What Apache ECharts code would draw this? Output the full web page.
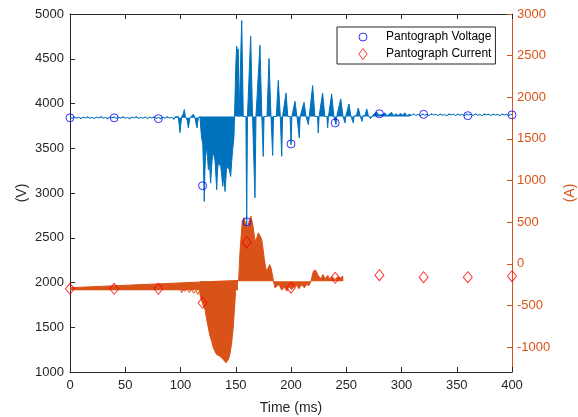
<!DOCTYPE html>
<html>
<head>
<meta charset="utf-8">
<script src="https://cdn.jsdelivr.net/npm/echarts@6/dist/echarts.min.js"></script>
<style>
html,body{margin:0;padding:0;background:#fff;}
#chart{width:578px;height:417px;}
</style>
</head>
<body>
<div id="chart"></div>
<script>
// ---------- DATA ----------
// Tick labels
var xTicks = [0, 50, 100, 150, 200, 250, 300, 350, 400];
var voltTicks = [1000, 1500, 2000, 2500, 3000, 3500, 4000, 4500, 5000];
var currTicks = [-1000, -500, 0, 500, 1000, 1500, 2000, 2500, 3000];

// Marker series (sampled every 40 ms)
var markerTimes = [0, 40, 80, 120, 160, 200, 240, 280, 320, 360, 400];
var voltMarkers = [3840, 3840, 3831, 3081, 2678, 3548, 3783, 3885, 3879, 3864, 3873];
var currMarkers = [-301, -301, -301, -469, 259, -288, -169, -137, -161, -161, -149];

// Pantograph voltage waveform [time ms, V]
var voltPre = [[0,3842],[2,3832],[4,3850],[6,3836],[8,3847],[10,3830],[12,3848],[14,3838],[16,3852],[18,3834],[20,3846],[22,3831],[24,3849],[26,3837],[28,3854],[30,3835],[32,3845],[34,3828],[36,3848],[38,3839],[40,3851],[42,3832],[44,3847],[46,3836],[48,3853],[50,3834],[52,3844],[54,3829],[56,3849],[58,3838],[60,3855],[62,3833],[64,3846],[66,3835],[68,3851],[70,3830],[72,3848],[74,3837],[76,3852],[78,3832],[80,3845],[82,3827],[84,3849],[86,3834],[88,3854],[90,3836],[92,3847],[94,3822],[95,3850],[96,3828],[98,3856],[99.5,3675],[101,3850],[102.5,3885],[103.4,3932],[104.5,3850],[106,3815],[107.1,3727],[108.5,3840],[110,3858],[111.6,3880],[113,3845],[114.9,3727],[116,3830],[117.6,3855]];
var voltDip = [[117.6,3855],[118.5,3700],[119.3,3600],[120.1,3559],[120.8,3300],[121.5,2905],[122.1,3250],[122.6,3400],[123.7,3521],[124.5,3400],[125.2,3260],[126.2,3350],[127.3,3111],[128.2,3300],[129.1,3447],[130.2,3420],[131.2,3372],[132.0,3200],[132.8,3036],[133.5,3250],[134.2,3335],[135.3,3350],[136.4,3298],[137.3,3200],[138.2,3074],[139.4,3200],[140.3,3017],[141.0,3150],[141.8,3298],[143.0,3320],[144.2,3260],[145.4,3185],[146.3,3350],[147.2,3484],[148.4,3633],[148.9,3855]];
var voltRing = [[148.9,3855],[149.6,3855],[150.1,4450],[150.9,4640],[151.6,4560],[152.3,4610],[153.0,3855],[154.3,3855],[155.4,4927],[156.2,4350],[156.8,3855],[159.2,3855],[159.9,2611],[160.6,3855],[161.8,3855],[163.5,4752],[165.2,3855],[166.5,3855],[167.4,2947],[168.3,3855],[170.1,3855],[171.9,4651],[173.6,3855],[174.3,3855],[174.9,3409],[175.6,3855],[178.3,3855],[180.1,4502],[181.9,3855],[182.7,3855],[183.4,3420],[184.2,3855],[186.7,3855],[188.5,4259],[190.3,3855],[190.9,3855],[191.6,3410],[192.4,3855],[193.9,3855],[195.5,4118],[197.1,3855],[199.2,3855],[200.0,3540],[200.8,3855],[201.8,3855],[203.6,4024],[205.4,3855],[206.7,3855],[207.5,3615],[208.3,3855],[210.0,3855],[211.8,4013],[213.6,3855],[215.0,3855],[215.7,3764],[216.5,3855],[217.6,3855],[219.6,4200],[221.6,3855],[224.0,3855],[224.7,3670],[225.4,3855],[226.6,3855],[228.6,4118],[230.6,3855],[232.5,3855],[233.2,3727],[233.9,3855],[234.8,3855],[236.8,4107],[238.8,3855],[240.0,3855],[240.7,3764],[241.4,3855],[243.0,3860],[245.0,4051],[247.0,3860],[248.2,3860],[248.9,3783],[249.6,3860],[250.8,3860],[252.5,3995],[254.2,3860],[255.7,3860],[256.4,3783],[257.1,3860],[259.2,3865],[260.9,3950],[262.6,3865],[263.6,3865],[264.3,3800],[265.0,3865],[267.0,3865],[268.5,3939],[270.0,3865],[272.0,3830],[274.0,3870],[275.8,3875],[277.6,3905],[279.4,3870],[281,3850],[283,3878],[285,3895],[287,3860],[289,3882],[291,3900],[293,3862],[295,3885],[297,3865],[299,3890],[301,3870],[303,3896],[305,3860],[307,3880],[309,3868]];
var voltPost = [[309,3868],[311,3882],[313,3866],[315,3879],[317,3862],[319,3884],[321,3870],[323,3878],[325,3864],[327,3886],[329,3871],[331,3880],[333,3865],[335,3883],[337,3869],[339,3877],[341,3863],[343,3885],[345,3872],[347,3879],[349,3866],[351,3882],[353,3870],[355,3878],[357,3864],[359,3883],[361,3871],[363,3880],[365,3866],[367,3884],[369,3869],[371,3877],[373,3863],[375,3885],[377,3872],[379,3880],[381,3865],[383,3882],[385,3870],[387,3879],[389,3864],[391,3884],[393,3871],[395,3878],[397,3866],[399,3881],[400,3872]];

// Pantograph current waveform [time ms, A]
var currWedge = [[0,-287],[152,-200]];
var currPre = [[0,-300],[3,-310],[6,-298],[9,-312],[12,-302],[15,-308],[18,-296],[21,-311],[24,-300],[27,-306],[30,-297],[33,-313],[36,-301],[39,-309],[42,-299],[45,-312],[48,-303],[51,-307],[54,-296],[57,-311],[60,-301],[63,-308],[66,-298],[69,-313],[72,-300],[75,-306],[78,-297],[81,-312],[84,-302],[87,-309],[90,-299],[93,-311],[96,-303],[98,-310],[100,-300],[101,-350],[102,-310],[104,-330],[106,-300],[108,-345],[110,-310],[112,-355],[114,-320],[115.5,-370],[117,-330]];
var currMain = [[117,-250],[117.6,-369],[118.5,-420],[119.5,-440],[120.6,-500],[122.2,-549],[123.7,-670],[125.2,-770],[126.7,-870],[128.2,-930],[129.7,-1010],[131.2,-1051],[132.7,-1090],[134.2,-1100],[135.7,-1111],[137.2,-1130],[138.7,-1151],[140,-1170],[141.2,-1190],[142.3,-1170],[143.3,-1150],[144.8,-1080],[146.3,-950],[147.8,-750],[148.8,-550],[149.8,-350],[150.5,-210],[152.6,-201],[153.8,132],[155.9,512],[157.5,553],[159,472],[160.5,412],[162,512],[163.8,572],[165.9,432],[167.4,271],[169,312],[170.5,372],[172.2,332],[173.5,292],[174.4,211],[175.9,51],[177.1,-48],[178,-89],[179.5,-69],[180.7,-9],[181.9,-48],[183.4,-149],[184,-201],[185.5,-289],[187,-309],[189.1,-249],[191.6,-317],[194,-277],[196.1,-329],[198.2,-277],[200.6,-309],[203,-277],[205.1,-261],[207.2,-301],[209.7,-249],[212,-289],[214.2,-249],[216.3,-261],[218.1,-209],[220.2,-89],[222.3,-77],[224.7,-141],[226.9,-181],[229,-129],[230.8,-181],[233.2,-141],[235.3,-189],[237.4,-157],[239.8,-189],[242.2,-157],[244.3,-173],[247.3,-149]];

// ---------- CHART ----------
var BLUE = '#0072BD', ORANGE = '#D95319', AX = '#262626';
var FONT = '"Liberation Sans", Arial, Helvetica, sans-serif';

function pairs(ts, vs) { return ts.map(function (t, i) { return [t, vs[i]]; }); }
function plain(v) { return String(v); }

function wave(data, yIdx, color, origin, z) {
  var s = {
    type: 'line', data: data, xAxisIndex: 0, yAxisIndex: yIdx,
    symbol: 'none', showSymbol: false, silent: true, z: z,
    lineStyle: { color: color, width: 1 }
  };
  if (origin !== null) s.areaStyle = { color: color, opacity: 1, origin: origin };
  return s;
}

var ICON_CIRCLE = 'path://M-5.5,-5.5M5.5,5.5M4,0A4,4,0,1,1,-4,0A4,4,0,1,1,4,0Z';
var ICON_DIAMOND = 'path://M0,-5.5L4.2,0L0,5.5L-4.2,0Z';

var chart = echarts.init(document.getElementById('chart'), null, { renderer: 'canvas' });
chart.setOption({
  animation: false,
  backgroundColor: '#fff',
  textStyle: { fontFamily: FONT },
  grid: { left: 70, right: 66, top: 14, bottom: 45, containLabel: false, outerBoundsMode: 'none' },
  legend: {
    orient: 'vertical', left: 337, top: 27,
    padding: [3, 4, 3, 20], itemWidth: 36, itemHeight: 11, itemGap: 3,
    backgroundColor: '#fff', borderColor: AX, borderWidth: 1,
    textStyle: { fontSize: 12, color: '#000', lineHeight: 14, fontFamily: FONT },
    data: [
      { name: 'Pantograph Voltage', icon: ICON_CIRCLE,
        itemStyle: { color: 'rgba(0,0,0,0)', borderColor: '#0000FF', borderWidth: 1 } },
      { name: 'Pantograph Current', icon: ICON_DIAMOND,
        itemStyle: { color: 'rgba(0,0,0,0)', borderColor: '#FF0000', borderWidth: 1 } }
    ]
  },
  xAxis: [{
    type: 'value', position: 'bottom', min: 0, max: 400, interval: 50,
    axisLine: { onZero: false, lineStyle: { color: AX, width: 1 } },
    axisTick: { inside: true, length: 5, lineStyle: { color: AX } },
    axisLabel: { color: AX, fontSize: 13, margin: 7, fontFamily: FONT,
      customValues: xTicks, formatter: plain },
    splitLine: { show: false },
    name: 'Time (ms)', nameLocation: 'middle', nameGap: 29, nameMoveOverlap: false,
    nameTextStyle: { color: AX, fontSize: 14, fontFamily: FONT }
  }, {
    type: 'value', position: 'top', min: 0, max: 400, interval: 50,
    axisLine: { onZero: false, lineStyle: { color: AX, width: 1 } },
    axisTick: { inside: true, length: 5, lineStyle: { color: AX } },
    axisLabel: { show: false }, splitLine: { show: false }
  }],
  yAxis: [{
    type: 'value', position: 'left', min: 1000, max: 5000, interval: 500,
    axisLine: { show: true, onZero: false, lineStyle: { color: AX, width: 1 } },
    axisTick: { show: true, inside: true, length: 5, lineStyle: { color: AX } },
    axisLabel: { color: AX, fontSize: 13, margin: 6, fontFamily: FONT,
      customValues: voltTicks, formatter: plain },
    splitLine: { show: false },
    name: '(V)', nameLocation: 'middle', nameGap: 41, nameRotate: 90, nameMoveOverlap: false,
    nameTextStyle: { color: AX, fontSize: 14, fontFamily: FONT }
  }, {
    type: 'value', position: 'right', min: -1300, max: 3000,
    axisLine: { show: true, onZero: false, lineStyle: { color: ORANGE, width: 1 } },
    axisTick: { show: true, inside: true, length: 5, lineStyle: { color: ORANGE },
      customValues: currTicks },
    axisLabel: { color: ORANGE, fontSize: 13, margin: 5, fontFamily: FONT,
      customValues: currTicks, formatter: plain },
    splitLine: { show: false },
    name: '(A)', nameLocation: 'middle', nameGap: 51, nameRotate: 90, nameMoveOverlap: false,
    nameTextStyle: { color: ORANGE, fontSize: 14, fontFamily: FONT }
  }],
  series: [
    wave(voltPre, 0, BLUE, 3842, 2),
    wave(voltDip, 0, BLUE, 3855, 2),
    wave(voltRing, 0, BLUE, 3855, 2),
    wave(voltPost, 0, BLUE, 3872, 2),
    wave(currWedge, 1, ORANGE, -318, 3),
    wave(currPre, 1, ORANGE, null, 3),
    wave(currMain, 1, ORANGE, -210, 3),
    {
      name: 'Pantograph Voltage', type: 'scatter', xAxisIndex: 0, yAxisIndex: 0,
      data: pairs(markerTimes, voltMarkers), symbol: 'circle', symbolSize: 8, z: 5,
      itemStyle: { color: 'rgba(255,255,255,0)', borderColor: '#0000FF', borderWidth: 1 }
    },
    {
      name: 'Pantograph Current', type: 'scatter', xAxisIndex: 0, yAxisIndex: 1,
      data: pairs(markerTimes, currMarkers), symbol: 'diamond', symbolSize: [9, 11], z: 5,
      itemStyle: { color: 'rgba(255,255,255,0)', borderColor: '#FF0000', borderWidth: 1 }
    }
  ]
});
</script>
</body>
</html>
